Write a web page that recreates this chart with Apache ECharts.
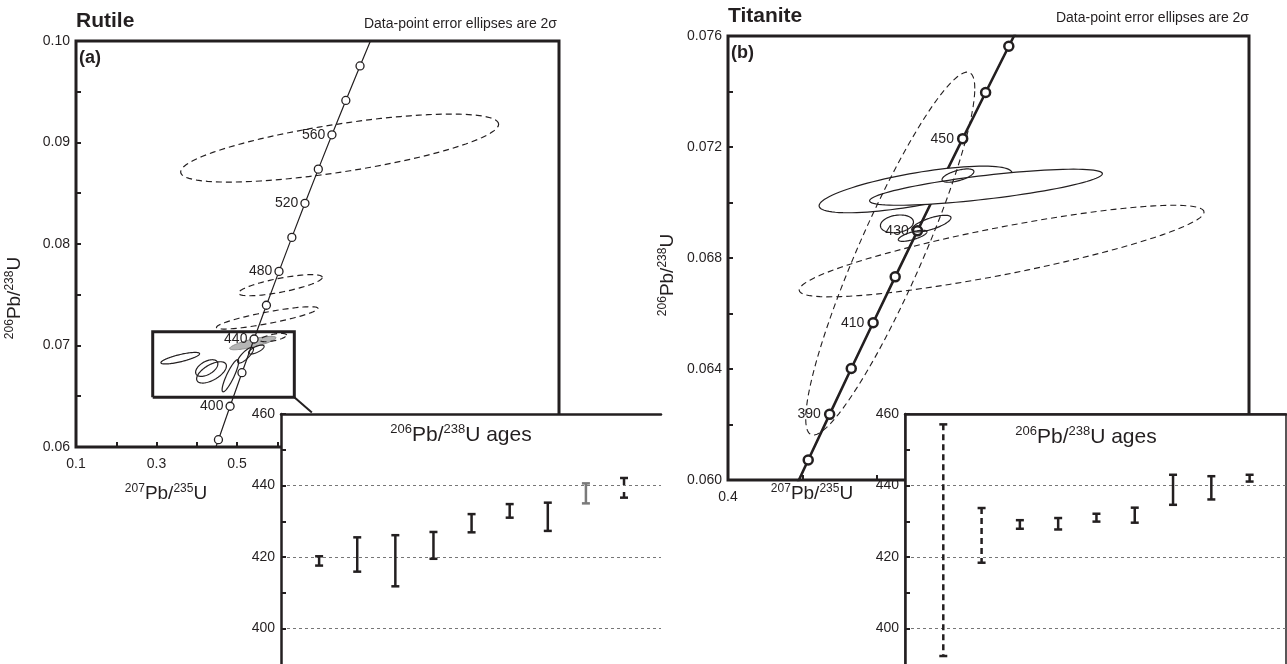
<!DOCTYPE html>
<html>
<head>
<meta charset="utf-8">
<script src="https://cdn.jsdelivr.net/npm/echarts@6/dist/echarts.min.js"></script>
<style>
  html, body { margin: 0; padding: 0; background: #fff; }
  #chart { width: 1287px; height: 664px; }
</style>
</head>
<body>
<div id="chart"></div>
<script>
// concordia points (age in Ma, 207Pb/235U, 206Pb/238U)
const rutileCurveAge = [370, 380, 400, 420, 440, 460, 480, 500, 520, 540, 560, 580, 600, 620]
const rutileCurve75 = [0.43964, 0.45389, 0.48281, 0.51231, 0.54239, 0.57307, 0.60436, 0.63628, 0.66883, 0.70202, 0.73588, 0.77041, 0.80568, 0.84155]
const rutileCurve68 = [0.059076, 0.060720, 0.064016, 0.067322, 0.070638, 0.073965, 0.077302, 0.080650, 0.084008, 0.087376, 0.090755, 0.094144, 0.097544, 0.100954]
const rutileLabelAges = [400, 440, 480, 520, 560]

const titaniteCurveAge = [370, 380, 390, 400, 410, 420, 430, 440, 450, 460, 470, 480]
const titaniteCurve75 = [0.43964, 0.45389, 0.46828, 0.48281, 0.49749, 0.51231, 0.52728, 0.54239, 0.55766, 0.57307, 0.58864, 0.60436]
const titaniteCurve68 = [0.059076, 0.060720, 0.062366, 0.064016, 0.065667, 0.067322, 0.068979, 0.070638, 0.072300, 0.073965, 0.075632, 0.077302]
const titaniteLabelAges = [390, 410, 430, 450]

// error ellipses: [x centre, y centre, 2s x, 2s y, rho]
const rutileDashed = [
  [0.755, 0.08945, 0.395, 0.00335, 0.70],
  [0.608, 0.07594, 0.104, 0.00104, 0.74],
  [0.575, 0.07272, 0.126, 0.00110, 0.85],
  [0.590, 0.07078, 0.033, 0.00041, 0.60]
]
const rutileSolid = [
  [0.359, 0.06875, 0.048, 0.00057, 0.77],
  [0.4248, 0.06778, 0.0276, 0.00082, 0.50],
  [0.4367, 0.06735, 0.037, 0.00105, 0.60],
  [0.4835, 0.06702, 0.0205, 0.00158, 0.87],
  [0.5213, 0.06904, 0.0197, 0.00077, 0.80],
  [0.548, 0.0696, 0.0193, 0.00044, 0.70]
]
const rutileGrey = [
  [0.5393, 0.07024, 0.0575, 0.00066, 0.80]
]
const titaniteBig = [
  [0.526, 0.07047, 0.0648, 0.00084, 0.70],
  [0.5733, 0.07055, 0.0782, 0.00065, 0.75]
]
const titaniteSolid = [
  [0.5545, 0.07097, 0.0107, 0.00024, 0.60],
  [0.5135, 0.06923, 0.0111, 0.00032, 0.20],
  [0.5366, 0.06924, 0.0132, 0.00030, 0.70],
  [0.524, 0.0688, 0.0096, 0.00020, 0.70]
]
const titaniteDashed = [
  [0.509, 0.06816, 0.0568, 0.00654, 0.91],
  [0.5838, 0.06825, 0.136, 0.00165, 0.85]
]

// enlarged area in panel (a) and its leader line
const zoomBoxX = [0.2906, 0.6424]
const zoomBoxY = [0.0649, 0.07135]
const leaderEnd = [0.686, 0.0634]

// 206Pb/238U ages (Ma), 2s low / high
const rutileAgeLo = [417.6, 415.9, 411.8, 419.5, 426.9, 431.0, 427.3, 435.0, 436.6]
const rutileAgeHi = [420.2, 425.5, 426.1, 427.0, 432.0, 434.8, 435.2, 440.6, 442.1]
const titaniteAgeLo = [392.3, 418.4, 427.9, 427.7, 429.9, 429.6, 434.6, 436.1, 441.1]
const titaniteAgeHi = [457.1, 433.7, 430.3, 430.9, 432.1, 433.8, 443.0, 442.6, 443.0]

const rutileGreyBars = [8]
const rutileDashedBars = [9]
const titaniteDashedBars = [1, 2]

const ink = '#231f20'
const font = 'Liberation Sans, Arial, sans-serif'

const chart = echarts.init(document.getElementById('chart'))

function curve(xs, ys) {
  return xs.map((x, i) => [x, ys[i]])
}
function markers(ages, xs, ys, lo, hi) {
  const out = []
  ages.forEach((a, i) => { if (a >= lo && a <= hi) out.push([xs[i], ys[i], a]) })
  return out
}
function ellipseItem(style) {
  return function (params, api) {
    const cx = api.value(0), cy = api.value(1), sx = api.value(2), sy = api.value(3), r = api.value(4)
    const q = Math.sqrt(1 - r * r)
    const pts = []
    for (let k = 0; k <= 96; k++) {
      const t = k / 96 * 2 * Math.PI
      pts.push(api.coord([cx + sx * Math.cos(t), cy + sy * (r * Math.cos(t) + q * Math.sin(t))]))
    }
    return { type: 'polygon', shape: { points: pts }, style: Object.assign({}, style) }
  }
}
function barItem(color, dash) {
  return function (params, api) {
    const x = api.value(0)
    const top = api.coord([x, api.value(2)])
    const bot = api.coord([x, api.value(1)])
    const w = 4
    const cap = { stroke: color, lineWidth: 2.5, fill: null }
    return {
      type: 'group',
      children: [
        { type: 'line', shape: { x1: top[0], y1: top[1], x2: bot[0], y2: bot[1] },
          style: { stroke: color, lineWidth: 2.5, lineDash: dash, fill: null } },
        { type: 'line', shape: { x1: top[0] - w, y1: top[1], x2: top[0] + w, y2: top[1] }, style: cap },
        { type: 'line', shape: { x1: bot[0] - w, y1: bot[1], x2: bot[0] + w, y2: bot[1] }, style: cap }
      ]
    }
  }
}
function bars(lo, hi, keep) {
  const out = []
  lo.forEach((v, i) => { if (keep(i + 1)) out.push([i + 1, v, hi[i]]) })
  return out
}
function ellipseSeries(data, x, style, z) {
  return { type: 'custom', xAxisIndex: x, yAxisIndex: x, data: data, renderItem: ellipseItem(style), z: z, silent: true }
}
function barSeries(data, x, color, dash) {
  return { type: 'custom', xAxisIndex: x, yAxisIndex: x, data: data, renderItem: barItem(color, dash), z: 12, silent: true }
}

const tickStyle = { show: true, inside: true, length: 5, lineStyle: { color: ink, width: 2 } }
const labelStyle = { color: ink, fontSize: 14, fontFamily: font }

function richText(main, sup) {
  return {
    n: { fontSize: main, lineHeight: main + 3, fontFamily: font, fill: ink },
    s: { fontSize: sup, lineHeight: sup, verticalAlign: 'top', fontFamily: font, fill: ink }
  }
}
function textEl(x, y, text, opts) {
  return Object.assign({
    type: 'text', x: x, y: y, z: 30, silent: true,
    style: Object.assign({ text: text, fill: ink, fontFamily: font, fontSize: 14, align: 'left', verticalAlign: 'middle' }, opts.style || {})
  }, opts.el || {})
}

function insetY(index) {
  return { type: 'value', gridIndex: index, min: 380, max: 460, interval: 20, z: 11,
    axisLine: { show: true, lineStyle: { color: ink, width: 2.5 } }, axisTick: tickStyle,
    minorTick: { show: true, splitNumber: 2, length: 5, lineStyle: { color: ink, width: 2 } },
    splitLine: { show: true, lineStyle: { color: '#777', width: 1, type: [3, 3] } },
    axisLabel: Object.assign({ margin: 6 }, labelStyle) }
}
function insetX(index, max) {
  return { type: 'value', gridIndex: index, min: 0, max: max, position: 'top', z: 11,
    axisLine: { show: true, lineStyle: { color: ink, width: 2.5 } },
    axisTick: { show: false }, axisLabel: { show: false }, splitLine: { show: false } }
}

const option = {
  animation: false,
  grid: [
    { left: 76, top: 41, width: 483, height: 406, show: true, borderColor: ink, borderWidth: 3, z: 0, outerBoundsMode: 'none' },
    { left: 728, top: 36, width: 521, height: 444, show: true, borderColor: ink, borderWidth: 3, z: 0, outerBoundsMode: 'none' },
    { left: 281, top: 414, width: 380, height: 286, show: true, backgroundColor: '#fff', borderWidth: 0, z: 10, outerBoundsMode: 'none' },
    { left: 905, top: 414, width: 381, height: 286, show: true, backgroundColor: '#fff', borderColor: ink, borderWidth: 1.5, z: 10, outerBoundsMode: 'none' }
  ],
  xAxis: [
    { type: 'value', gridIndex: 0, min: 0.1, max: 1.3, interval: 0.1,
      axisLine: { show: false }, axisTick: tickStyle, splitLine: { show: false },
      axisLabel: Object.assign({ margin: 10, formatter: v => [1, 3, 5].includes(Math.round(v * 10)) ? v.toFixed(1) : '' }, labelStyle) },
    { type: 'value', gridIndex: 1, min: 0.4, max: 0.75, interval: 0.05,
      axisLine: { show: false }, axisTick: tickStyle, splitLine: { show: false },
      axisLabel: Object.assign({ margin: 10, formatter: v => Math.round(v * 100) === 40 ? '0.4' : '' }, labelStyle) },
    insetX(2, 9.97),
    insetX(3, 9.95)
  ],
  yAxis: [
    { type: 'value', gridIndex: 0, min: 0.06, max: 0.10, interval: 0.005,
      axisLine: { show: false }, axisTick: tickStyle, splitLine: { show: false },
      axisLabel: Object.assign({ margin: 6, formatter: v => Math.round(v * 1000) % 10 === 0 ? v.toFixed(2) : '' }, labelStyle) },
    { type: 'value', gridIndex: 1, min: 0.060, max: 0.076, interval: 0.002,
      axisLine: { show: false }, axisTick: tickStyle, splitLine: { show: false },
      axisLabel: Object.assign({ margin: 6, formatter: v => Math.round(v * 1000) % 4 === 0 ? v.toFixed(3) : '' }, labelStyle) },
    insetY(2),
    insetY(3)
  ],
  series: [
    // panel (a) rutile
    ellipseSeries(rutileGrey, 0, { fill: '#b5b5b5', stroke: '#8a8a8a', lineWidth: 1 }, 2),
    ellipseSeries(rutileDashed, 0, { fill: null, stroke: ink, lineWidth: 1.2, lineDash: [6, 4] }, 2),
    ellipseSeries(rutileSolid, 0, { fill: null, stroke: ink, lineWidth: 1.2 }, 2),
    { type: 'line', xAxisIndex: 0, yAxisIndex: 0, z: 3, silent: true, showSymbol: false,
      data: [[zoomBoxX[0], zoomBoxY[0]], [zoomBoxX[1], zoomBoxY[0]], [zoomBoxX[1], zoomBoxY[1]], [zoomBoxX[0], zoomBoxY[1]], [zoomBoxX[0], zoomBoxY[0]]],
      lineStyle: { color: ink, width: 3, join: 'miter' } },
    { type: 'line', xAxisIndex: 0, yAxisIndex: 0, z: 3, silent: true, showSymbol: false,
      data: [[zoomBoxX[1], zoomBoxY[0]], leaderEnd], lineStyle: { color: ink, width: 2 } },
    { type: 'line', xAxisIndex: 0, yAxisIndex: 0, z: 3, silent: true, showSymbol: false, clip: true,
      data: curve(rutileCurve75, rutileCurve68), lineStyle: { color: ink, width: 1.2 } },
    { type: 'scatter', xAxisIndex: 0, yAxisIndex: 0, z: 4, silent: true,
      data: markers(rutileCurveAge, rutileCurve75, rutileCurve68, 380, 600),
      symbol: 'circle', symbolSize: 8,
      itemStyle: { color: '#fff', borderColor: ink, borderWidth: 1.3, opacity: 1 },
      label: Object.assign({ show: true, position: 'left', distance: 2,
        formatter: p => rutileLabelAges.includes(p.value[2]) ? String(p.value[2]) : '' }, labelStyle) },

    // panel (b) titanite
    { type: 'line', xAxisIndex: 1, yAxisIndex: 1, z: 2, silent: true, showSymbol: false, clip: true,
      data: curve(titaniteCurve75, titaniteCurve68), lineStyle: { color: ink, width: 2.6 } },
    { type: 'scatter', xAxisIndex: 1, yAxisIndex: 1, z: 2, silent: true,
      data: markers(titaniteCurveAge, titaniteCurve75, titaniteCurve68, 380, 470),
      symbol: 'circle', symbolSize: 9,
      itemStyle: { color: '#fff', borderColor: ink, borderWidth: 2.5, opacity: 1 },
      label: Object.assign({ show: true, position: 'left', distance: 3,
        formatter: p => titaniteLabelAges.includes(p.value[2]) ? String(p.value[2]) : '' }, labelStyle) },
    ellipseSeries(titaniteBig, 1, { fill: '#fff', stroke: ink, lineWidth: 1.2 }, 3),
    ellipseSeries(titaniteSolid, 1, { fill: null, stroke: ink, lineWidth: 1.2 }, 4),
    ellipseSeries(titaniteDashed, 1, { fill: null, stroke: ink, lineWidth: 1.1, lineDash: [6, 4] }, 4),

    // age insets
    barSeries(bars(rutileAgeLo, rutileAgeHi, i => !rutileGreyBars.includes(i) && !rutileDashedBars.includes(i)), 2, ink, null),
    barSeries(bars(rutileAgeLo, rutileAgeHi, i => rutileGreyBars.includes(i)), 2, '#7a7a7a', null),
    barSeries(bars(rutileAgeLo, rutileAgeHi, i => rutileDashedBars.includes(i)), 2, ink, [7, 7]),
    barSeries(bars(titaniteAgeLo, titaniteAgeHi, i => !titaniteDashedBars.includes(i)), 3, ink, null),
    barSeries(bars(titaniteAgeLo, titaniteAgeHi, i => titaniteDashedBars.includes(i)), 3, ink, [6, 4])
  ],
  graphic: [
    textEl(76, 21, 'Rutile', { style: { fontSize: 21, fontWeight: 'bold' } }),
    textEl(728, 16, 'Titanite', { style: { fontSize: 21, fontWeight: 'bold' } }),
    textEl(557, 24, 'Data-point error ellipses are 2σ', { style: { align: 'right' } }),
    textEl(1249, 18, 'Data-point error ellipses are 2σ', { style: { align: 'right' } }),
    textEl(79, 58, '(a)', { style: { fontSize: 18, fontWeight: 'bold' } }),
    textEl(731, 53, '(b)', { style: { fontSize: 18, fontWeight: 'bold' } }),
    textEl(461, 435, '{s|206}{n|Pb/}{s|238}{n|U ages}', { style: { align: 'center', rich: richText(21, 13) } }),
    textEl(1086, 437, '{s|206}{n|Pb/}{s|238}{n|U ages}', { style: { align: 'center', rich: richText(21, 13) } }),
    textEl(166, 494, '{s|207}{n|Pb/}{s|235}{n|U}', { style: { align: 'center', rich: richText(19, 12) } }),
    textEl(812, 494, '{s|207}{n|Pb/}{s|235}{n|U}', { style: { align: 'center', rich: richText(19, 12) } }),
    textEl(15, 298, '{s|206}{n|Pb/}{s|238}{n|U}', { style: { align: 'center', rich: richText(19, 12) }, el: { rotation: Math.PI / 2 } }),
    textEl(668, 275, '{s|206}{n|Pb/}{s|238}{n|U}', { style: { align: 'center', rich: richText(19, 12) }, el: { rotation: Math.PI / 2 } })
  ]
}

chart.setOption(option)
</script>
</body>
</html>
